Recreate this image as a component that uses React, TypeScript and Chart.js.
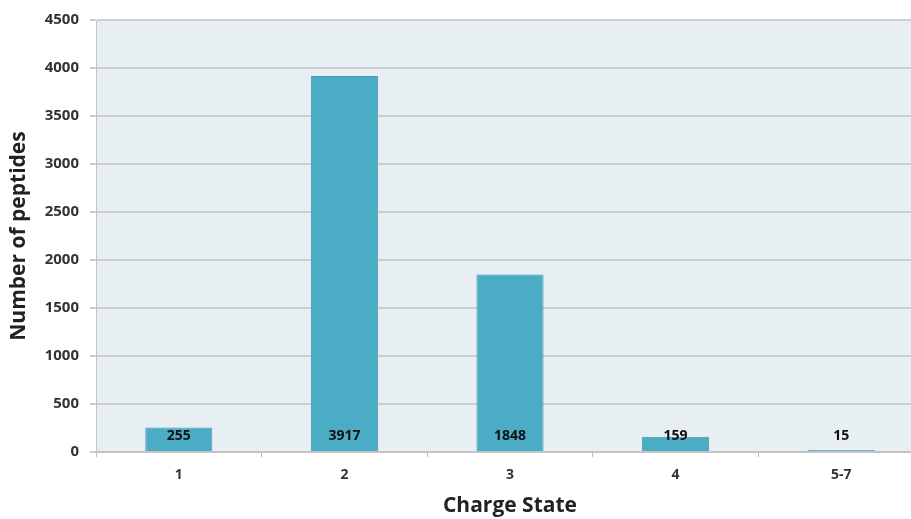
import React, { useEffect, useRef } from "react";
import { Chart, registerables } from "chart.js";

Chart.register(...registerables);

const categories = ["1", "2", "3", "4", "5-7"];
const peptides = [255, 3917, 1848, 159, 15];
const yTicks = [0, 500, 1000, 1500, 2000, 2500, 3000, 3500, 4000, 4500];

const FONT = "'Open Sans', 'Liberation Sans', sans-serif";

export default function App() {
  const ref = useRef<HTMLCanvasElement | null>(null);

  useEffect(() => {
    document.body.style.margin = "0";
    const ctx = ref.current!.getContext("2d")!;

    const bgPlugin = {
      id: "plotBg",
      beforeDraw(chart: any) {
        const { ctx, chartArea } = chart;
        ctx.save();
        ctx.fillStyle = "#E8EFF3";
        ctx.fillRect(chartArea.left, chartArea.top, chartArea.right - chartArea.left, chartArea.bottom - chartArea.top);
        ctx.restore();
      },
    };

    const labelPlugin = {
      id: "barLabels",
      afterDatasetsDraw(chart: any) {
        const { ctx } = chart;
        const meta = chart.getDatasetMeta(0);
        const y0 = chart.scales.y.getPixelForValue(0);
        ctx.save();
        ctx.font = `bold 14px ${FONT}`;
        ctx.fillStyle = "#111";
        ctx.textAlign = "center";
        ctx.textBaseline = "middle";
        meta.data.forEach((bar: any, i: number) => {
          ctx.fillText(String(peptides[i]), bar.x, y0 - 16);
        });
        ctx.restore();
      },
    };

    const chart = new Chart(ctx, {
      type: "bar",
      data: {
        labels: categories,
        datasets: [
          {
            data: peptides,
            backgroundColor: "#4BACC6",
            borderColor: "#3F98B0",
            borderWidth: 1,
            barPercentage: 0.405,
            categoryPercentage: 1,
            minBarLength: 2,
          },
        ],
      },
      options: {
        animation: false,
        responsive: false,
        maintainAspectRatio: false,
        layout: { padding: { top: 19, right: 6, left: 0, bottom: 0 } },
        plugins: { legend: { display: false }, tooltip: { enabled: false } },
        scales: {
          x: {
            offset: true,
            grid: {
              offset: true,
              drawOnChartArea: false,
              drawTicks: true,
              tickLength: 5,
              color: "#BDBDBD",
              lineWidth: 1,
            },
            border: { color: "#C4C4C4", width: 2 },
            ticks: { color: "#333", font: { family: FONT, size: 14, weight: "bold" }, padding: 10 },
            title: {
              display: true,
              text: "Charge State",
              color: "#222",
              font: { family: FONT, size: 21, weight: "bold" },
              padding: { top: 6, bottom: 0 },
            },
            afterFit(axis: any) {
              axis.height = 67;
            },
          },
          y: {
            min: 0,
            max: 4500,
            afterBuildTicks(axis: any) {
              axis.ticks = yTicks.map((v) => ({ value: v }));
            },
            grid: { color: "#CACFD2", lineWidth: 2, tickLength: 6, drawTicks: true },
            border: { color: "#C4C4C4", width: 1 },
            ticks: {
              color: "#333",
              font: { family: FONT, size: 15, weight: "bold" },
              padding: 11,
              callback: (v: any) => String(v),
            },
            title: {
              display: true,
              text: "Number of peptides",
              color: "#222",
              font: { family: FONT, size: 21, weight: "bold" },
              padding: { top: 6, bottom: 8 },
            },
            afterFit(axis: any) {
              axis.width = 96;
            },
          },
        },
      },
      plugins: [bgPlugin, labelPlugin],
    });

    return () => chart.destroy();
  }, []);

  return (
    <div style={{ position: "fixed", left: 0, top: 0, width: 911, height: 519, overflow: "hidden", background: "#fff" }}>
      <canvas ref={ref} width={930} height={519} style={{ width: 930, height: 519, display: "block" }} />
    </div>
  );
}
